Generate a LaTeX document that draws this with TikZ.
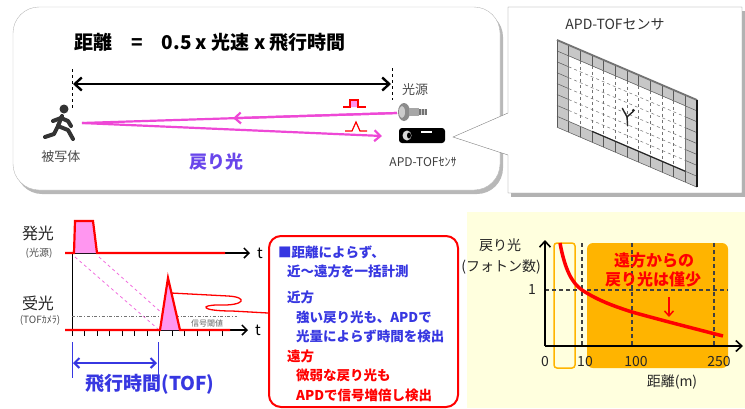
\documentclass[tikz,border=0pt]{standalone}
\usepackage{fontspec}
\setmainfont{Noto Sans CJK JP}
\usetikzlibrary{arrows.meta,positioning,calc}

\definecolor{beampink}{RGB}{238,72,214}
\definecolor{pulsepink}{RGB}{255,150,240}
\definecolor{txtblue}{RGB}{55,55,225}
\definecolor{retblue}{RGB}{105,70,235}
\definecolor{paleyellow}{RGB}{255,255,222}
\definecolor{ambergold}{RGB}{255,180,0}
\definecolor{framegray}{RGB}{185,185,185}

\tikzset{
  lbl/.style = {font=\fontsize{13}{15}\selectfont, text=black!70, inner sep=0pt},
  tiny/.style = {font=\fontsize{10}{12}\selectfont, text=black!70, inner sep=0pt},
  axlbl/.style = {font=\fontsize{14}{16}\selectfont, text=black!85, inner sep=0pt},
  note/.style = {font=\fontsize{13.5}{16}\selectfont\bfseries, anchor=west, inner sep=0pt},
  beam/.style = {draw=beampink, line width=2.2pt},
  redline/.style = {red, line width=2.2pt},
  barb/.style = {-{Straight Barb[length=6pt,width=11pt]}},
}

\begin{document}
\begin{tikzpicture}[x=1pt, y=-1pt]
\useasboundingbox (0,0) rectangle (745,408);

% --- distance formula panel ---
\fill[black!28, rounded corners=26pt] (16,11) rectangle (503,194);
\draw[framegray, fill=white, rounded corners=26pt] (13,7) rectangle (500,190);

\node[font=\fontsize{19}{22}\selectfont\bfseries] (formula) at (210,42)
  {距離\quad=\quad0.5 x 光速 x 飛行時間};

\coordinate (ltop) at (72,69);   \coordinate (lbot) at (72,110);
\coordinate (rtop) at (392,68);  \coordinate (rbot) at (392,100);
\draw[dashed, line width=0.8pt] (ltop) -- (lbot);
\draw[dashed, line width=0.8pt] (rtop) -- (rbot);
\coordinate (lspan) at (73,84);  \coordinate (rspan) at (391,84);
\draw[line width=2.4pt, {Straight Barb[length=7pt,width=13pt]}-{Straight Barb[length=7pt,width=13pt]}] (lspan) -- (rspan);

% runner
\begin{scope}[black!80, line width=4pt, line cap=round, line join=round]
  \fill (64,109) circle (4.5);
  \draw (62,116) -- (58,126);
  \draw (61,118) -- (53,121);
  \draw (61,118) -- (68,121) -- (71,126);
  \draw (58,126) -- (54,134) -- (45,137);
  \draw (58,126) -- (68,130) -- (73,139);
\end{scope}
\node[lbl] (objlbl) at (61,157) {被写体};

% lamp
\fill[black!45] (404,112) ellipse (6 and 9);
\fill[black!20] (402,112) ellipse (3 and 6);
\fill[black!35] (409,108) rectangle (419,116);
\fill[black!55] (419,109) rectangle (427,115);
\foreach \s in {421,424} \draw[black!20, line width=0.6pt] (\s,109) -- (\s,115);
\node[lbl] (lamplbl) at (415,90) {光源};

% sensor head
\fill[black, rounded corners=3pt] (399,128) rectangle (445,143);
\fill[black!15] (407,135.5) ellipse (4.5 and 5);
\fill[black] (409,135.5) ellipse (2 and 3);
\fill[white] (421,131) rectangle (432,133);
\node[font=\fontsize{12}{14}\selectfont, text=black!75, inner sep=0pt] (senslbl) at (423,162) {APD-TOFｾﾝｻ};

% beams
\coordinate (lampout) at (397,113);
\coordinate (target) at (82,123);
\coordinate (sensin) at (382,136);
\draw[beam] (lampout) -- (target);
\draw[beam, barb] (lampout) -- ($(lampout)!0.52!(target)$);
\draw[beam, barb] (target) -- (sensin);

% pulses on the beams
\draw[red, line width=1.2pt, fill=pulsepink] (343,107) -- (350,107) -- (350,100) -- (358,100) -- (358,107) -- (366,107);
\draw[red, line width=1.2pt] (345,131) -- (352,131) -- (356,122) -- (360,131) -- (367,131);

\node[font=\fontsize{18}{20}\selectfont\bfseries, text=retblue] (retlbl) at (216,162) {戻り光};

% --- sensor panel ---
\fill[black!30] (511,11) rectangle (745,197);
\draw[black!50, fill=white] (508,7) -- (742,7) -- (742,193) -- (508,193) -- (508,155) -- (453,137) -- (508,113) -- cycle;
\node[font=\fontsize{14}{16}\selectfont, text=black!80] (sensortitle) at (615,24) {APD-TOFセンサ};

\begin{scope}[shift={(557,40)}, x={(11.67pt,-5pt)}, y={(0pt,-10.9pt)}]
  \fill[black!22] (0,0) -- (12,0) -- (12,8) -- (0,8) -- cycle;
  \foreach \i in {0,...,12} \draw[black!65, line width=0.5pt] (\i,0) -- (\i,8);
  \foreach \j in {0,...,8} \draw[black!65, line width=0.5pt] (0,\j) -- (12,\j);
  \fill[white] (1,1) -- (11,1) -- (11,7) -- (1,7) -- cycle;
  \draw[black!60, line width=0.5pt] (1,1) -- (11,1) -- (11,7) -- (1,7) -- cycle;
  \foreach \i in {2,...,10} \draw[black!55, dashed, line width=0.5pt] (\i,1) -- (\i,7);
  \foreach \j in {2,...,6} \draw[black!55, dashed, line width=0.5pt] (1,\j) -- (11,\j);
  \draw[black!85, line width=1.2pt] (3,7) -- (11,7);
  \draw[black!55, line width=1.8pt] (0,0) -- (12,0);
  \draw[black!90, line width=2.6pt] (12,0) -- (12,8);
  % small figure in the image plane
  \draw[black!85, line width=1.4pt, line cap=round] (5.6,3.7) -- (6,4.3) -- (6.5,3.6);
  \draw[black!85, line width=1.4pt, line cap=round] (6,4.3) -- (6.05,5.1);
  \fill[black!85] (6.55,3.45) circle (1.6pt);
\end{scope}

% --- timing chart ---
\node[font=\fontsize{16}{18}\selectfont, text=black!85] (emitlbl) at (38,233) {発光};
\node[tiny] (emitsub) at (39,253) {(光源)};
\node[font=\fontsize{16}{18}\selectfont, text=black!85] (recvlbl) at (38,303) {受光};
\node[tiny] (recvsub) at (40,320) {(TOFｶﾒﾗ)};

\coordinate (emitstart) at (65,253); \coordinate (emitend) at (250,253);
\coordinate (recvstart) at (65,330); \coordinate (recvend) at (248,330);

\draw[line width=1pt] (72,253) -- (72,330);
\draw[line width=1.5pt, -{Straight Barb[length=5pt,width=10pt]}] (emitstart) -- (emitend) node[right=3pt, font=\fontsize{15}{17}\selectfont] (t1) {t};
\draw[line width=1.5pt, -{Straight Barb[length=5pt,width=10pt]}] (recvstart) -- (recvend) node[right=3pt, font=\fontsize{15}{17}\selectfont] (t2) {t};
\foreach \k in {0,...,12} \draw[line width=0.8pt] ({72+\k*12.5},330) -- ++(0,6);

% emitted pulse
\fill[pulsepink] (74,253) -- (75,221) -- (93,221) -- (97,253) -- cycle;
\draw[redline] (65,253) -- (74,253) -- (75,221) -- (93,221) -- (97,253) -- (225,253);

% flight of the pulse
\draw[beampink!80, dashed, line width=0.8pt] (75,257) -- (158,329);
\draw[beampink!80, dashed, line width=0.8pt] (99,257) -- (163,314);

% threshold
\draw[black!55, dash dot, line width=1pt] (72,316) -- (237,316);
\node[font=\fontsize{8}{9}\selectfont, text=black!60, inner sep=0pt] (thrlbl) at (207,323) {信号閾値};

% received pulse
\fill[pulsepink] (160,330) -- (168,278) -- (180,330) -- cycle;
\draw[redline] (65,330) -- (160,330) -- (168,278) -- (180,330) -- (230,330);

% time of flight
\draw[txtblue, line width=0.8pt] (72,342) -- (72,378);
\draw[txtblue, line width=0.8pt] (158,342) -- (158,378);
\coordinate (tofl) at (73,363); \coordinate (tofr) at (157,363);
\draw[txtblue, line width=2pt, {Straight Barb[length=5pt,width=10pt]}-{Straight Barb[length=5pt,width=10pt]}] (tofl) -- (tofr);
\node[font=\fontsize{19}{22}\selectfont\bfseries, text=txtblue] (toflbl) at (150,384) {飛行時間(TOF)};

% --- note box ---
\node[draw=red, line width=2pt, rounded corners=12pt, minimum width=189pt, minimum height=171pt, anchor=north west, inner sep=0pt] (notebox) at (268,235) {};
\coordinate (pulsetip) at (171,293);
\coordinate (notein) at (268,313);
\draw[red, line width=1.3pt] (pulsetip) -- (228,296) .. controls (248,297) and (246,306) .. (218,305)
  .. controls (200,305) and (200,311) .. (232,311) -- (notein);

\node[note, text=txtblue] (n1) at (278,252) {■距離によらず、};
\node[note, text=txtblue] (n2) at (287,271) {近～遠方を一括計測};
\node[note, text=txtblue] (n3) at (287,297) {近方};
\node[note, text=txtblue] (n4) at (296,317) {強い戻り光も、APDで};
\node[note, text=txtblue] (n5) at (296,336) {光量によらず時間を検出};
\node[note, text=red] (n6) at (287,356) {遠方};
\node[note, text=red] (n7) at (296,375) {微弱な戻り光も};
\node[note, text=red] (n8) at (296,395) {APDで信号増倍し検出};

% --- photon count chart ---
\fill[paleyellow] (467,212) rectangle (745,408);
\draw[ambergold, line width=1.5pt, rounded corners=3pt] (554,243) rectangle (575,368);
\fill[ambergold, rounded corners=6pt] (587,243) rectangle (728,368);

\foreach \xv in {582,632,714}
  \draw[black!75, line width=1.2pt, dash pattern=on 4pt off 3pt] (\xv,243) -- (\xv,346);
\draw[black!75, line width=1.2pt, dash pattern=on 4pt off 3pt] (545,290) -- (728,290);

\coordinate (origin) at (545,346);
\coordinate (ytop) at (545,240);
\coordinate (xend) at (743,346);
\draw[line width=1.6pt, barb] (origin) -- (ytop);
\draw[line width=1.6pt, barb] (origin) -- (xend);

\node[axlbl] (x0) at (545,362) {0};
\node[axlbl] (x10) at (585,362) {10};
\node[axlbl] (x100) at (636,362) {100};
\node[axlbl] (x250) at (719,362) {250};
\node[axlbl] (y1) at (532,290) {1};
\node[axlbl] (xname) at (672,382) {距離(m)};
\node[axlbl] (yname) at (500,245) {戻り光};
\node[axlbl] (yunit) at (501,267) {(フォトン数)};

\draw[red, line width=3.5pt] (560,243) .. controls (565,270) and (572,283) .. (582,290)
  .. controls (600,302) and (620,308) .. (632,312)
  .. controls (668,322) and (700,330) .. (723,336);

\node[font=\fontsize{16}{18}\selectfont\bfseries, text=red, inner sep=0pt] (farl1) at (654,260) {遠方からの};
\node[font=\fontsize{16}{18}\selectfont\bfseries, text=red, inner sep=0pt] (farl2) at (653,279) {戻り光は僅少};
\coordinate (dropa) at (669,297); \coordinate (dropb) at (669,317);
\draw[red, line width=1.5pt, -{Straight Barb[length=5pt,width=9pt]}] (dropa) -- (dropb);

\end{tikzpicture}
\end{document}
